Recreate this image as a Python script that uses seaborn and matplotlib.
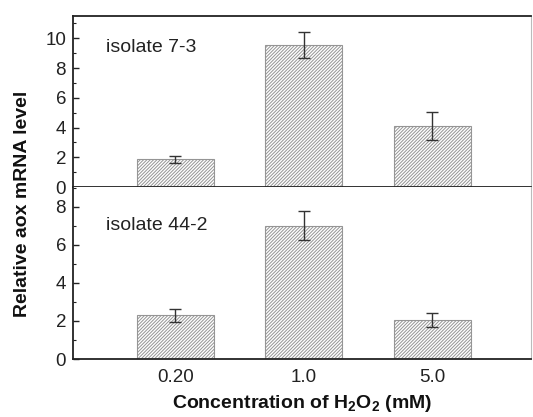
import matplotlib
matplotlib.use("Agg")
import matplotlib.pyplot as plt
import seaborn as sns
import pandas as pd
import numpy as np
from matplotlib.ticker import MultipleLocator

sns.set_theme(style="white")
plt.rcParams['font.family'] = ['Liberation Sans', 'DejaVu Sans']
plt.rcParams['hatch.linewidth'] = 0.7
plt.rcParams['mathtext.fontset'] = 'custom'
plt.rcParams['mathtext.rm'] = 'Liberation Sans'
plt.rcParams['mathtext.bf'] = 'Liberation Sans:bold'

categories = ["0.20", "1.0", "5.0"]
iso73_vals = [1.85, 9.55, 4.1]
iso73_err = [0.25, 0.9, 0.95]
iso442_vals = [2.3, 7.0, 2.05]
iso442_err = [0.35, 0.75, 0.38]
panel_labels = ["isolate 7-3", "isolate 44-2"]

W, H = 533, 417
fig = plt.figure(figsize=(W / 100, H / 100), dpi=100)

def frac(l, t, r, b):
    return [l / W, 1 - b / H, (r - l) / W, (b - t) / H]

ax_top = fig.add_axes(frac(73, 16, 531, 187))
ax_bot = fig.add_axes(frac(73, 187, 531, 359))

panels = [
    (ax_top, iso73_vals, iso73_err, panel_labels[0], 11.5, 0.79),
    (ax_bot, iso442_vals, iso442_err, panel_labels[1], 9.03, 0.75),
]

for ax, vals, errs, label, ytop, ty in panels:
    df = pd.DataFrame({"conc": categories, "val": vals})
    sns.barplot(data=df, x="conc", y="val", ax=ax, color="white",
                edgecolor="#959595", linewidth=0.8, hatch="//////////",
                width=0.6, errorbar=None, saturation=1)
    xs = np.arange(len(categories))
    ax.errorbar(xs, vals, yerr=errs, fmt="none", ecolor="#333333",
                elinewidth=1.0, capsize=4, capthick=1.0)
    ax.set_xlim(-0.795, 2.77)
    ax.set_ylim(0, ytop)
    ax.yaxis.set_major_locator(MultipleLocator(2))
    ax.yaxis.set_minor_locator(MultipleLocator(1))
    ax.tick_params(axis="y", which="major", direction="in", length=4,
                   width=1, labelsize=13.5, pad=5, color="#222222",
                   labelcolor="#222222", left=True)
    ax.tick_params(axis="y", which="minor", direction="in", length=2,
                   width=0.8, left=True, color="#222222")
    ax.tick_params(axis="x", length=0, labelsize=13.5, pad=7,
                   labelcolor="#222222")
    ax.set_xlabel("")
    ax.set_ylabel("")
    for s in ["left", "bottom", "top"]:
        ax.spines[s].set_color("#222222")
        ax.spines[s].set_linewidth(1.3)
    ax.spines["right"].set_color("#bbbbbb")
    ax.spines["right"].set_linewidth(0.8)
    ax.text(0.072, ty, label, transform=ax.transAxes, fontsize=14,
            va="baseline", ha="left", color="#222222")

ax_top.set_xticklabels([])
ax_bot.spines["top"].set_visible(False)

ax_bot.set_xlabel(r"Concentration of H$_\mathbf{2}$O$_\mathbf{2}$ (mM)",
                  fontsize=14, fontweight="bold", labelpad=5, color="#111111")
fig.text(23 / W, 1 - 204 / H, "Relative aox mRNA level", rotation=90,
         fontsize=14, fontweight="bold", ha="center", va="center",
         color="#111111")

fig.savefig("out.png", dpi=100)
